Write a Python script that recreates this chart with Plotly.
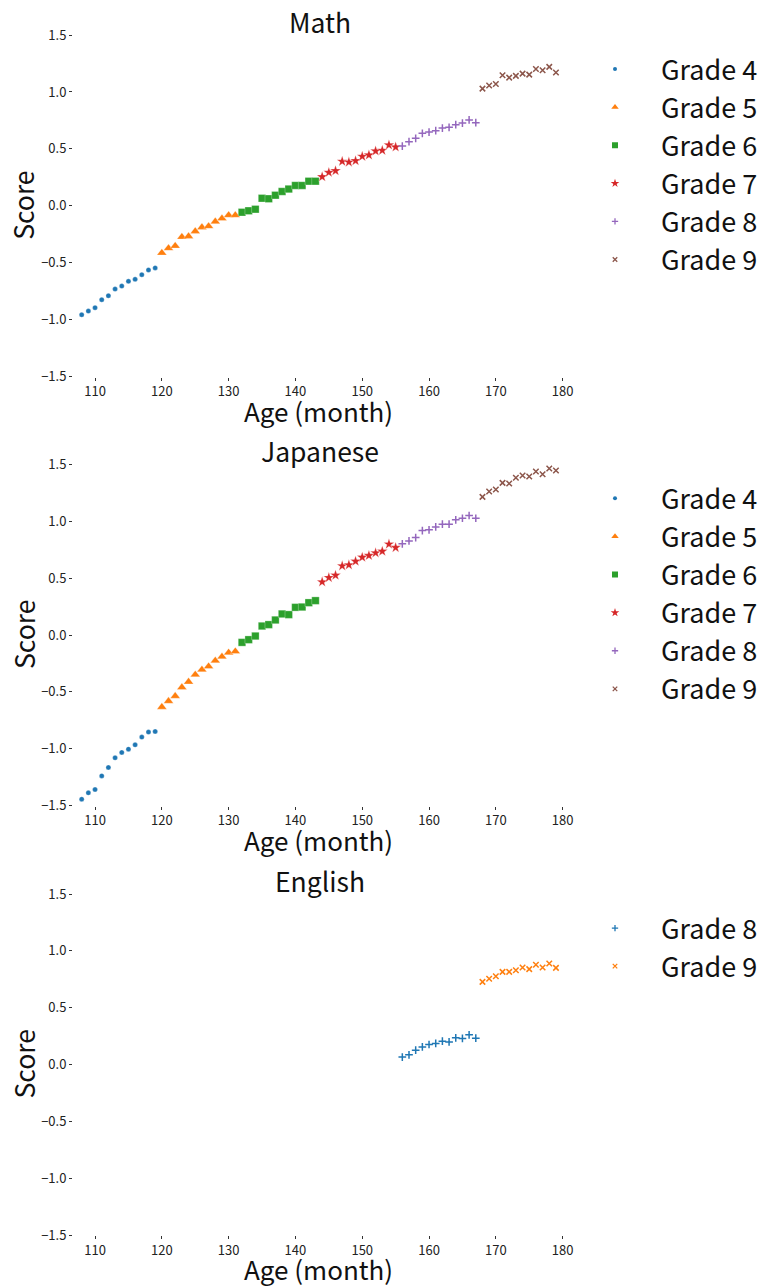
import plotly.graph_objects as go

W, H = 767, 1287
FONT = "Noto Sans CJK JP"

ages_g4 = list(range(108, 120))
ages_g5 = list(range(120, 132))
ages_g6 = list(range(132, 144))
ages_g7 = list(range(144, 156))
ages_g8 = list(range(156, 168))
ages_g9 = list(range(168, 180))

math_g4 = [-0.956, -0.924, -0.894, -0.824, -0.789, -0.730, -0.704, -0.663, -0.645, -0.604, -0.563, -0.545]
math_g5 = [-0.413, -0.372, -0.352, -0.273, -0.267, -0.223, -0.188, -0.179, -0.138, -0.111, -0.082, -0.082]
math_g6 = [-0.056, -0.044, -0.029, 0.067, 0.062, 0.094, 0.126, 0.147, 0.179, 0.179, 0.217, 0.217]
math_g7 = [0.255, 0.293, 0.308, 0.390, 0.384, 0.396, 0.434, 0.446, 0.481, 0.487, 0.534, 0.516]
math_g8 = [0.525, 0.563, 0.593, 0.637, 0.648, 0.660, 0.683, 0.689, 0.713, 0.727, 0.754, 0.730]
math_g9 = [1.029, 1.056, 1.070, 1.147, 1.126, 1.141, 1.161, 1.152, 1.202, 1.191, 1.220, 1.170]

jpn_g4 = [-1.443, -1.387, -1.358, -1.238, -1.164, -1.079, -1.032, -1.003, -0.965, -0.897, -0.853, -0.848]
jpn_g5 = [-0.633, -0.581, -0.537, -0.460, -0.411, -0.349, -0.305, -0.276, -0.226, -0.191, -0.155, -0.144]
jpn_g6 = [-0.065, -0.041, -0.009, 0.079, 0.091, 0.132, 0.185, 0.179, 0.243, 0.246, 0.284, 0.302]
jpn_g7 = [0.466, 0.504, 0.525, 0.607, 0.616, 0.648, 0.683, 0.698, 0.721, 0.736, 0.798, 0.768]
jpn_g8 = [0.801, 0.827, 0.856, 0.918, 0.924, 0.950, 0.974, 0.974, 1.012, 1.026, 1.050, 1.026]
jpn_g9 = [1.214, 1.261, 1.279, 1.337, 1.331, 1.381, 1.402, 1.393, 1.437, 1.413, 1.463, 1.446]

eng_g8 = [0.065, 0.085, 0.126, 0.155, 0.176, 0.185, 0.205, 0.199, 0.235, 0.229, 0.261, 0.232]
eng_g9 = [0.727, 0.754, 0.777, 0.815, 0.815, 0.830, 0.853, 0.839, 0.877, 0.853, 0.889, 0.850]

subjects = ["Math", "Japanese", "English"]
y_ticks = [-1.5, -1.0, -0.5, 0.0, 0.5, 1.0, 1.5]
y_ticklabels = ["\u22121.5", "\u22121.0", "\u22120.5", "0.0", "0.5", "1.0", "1.5"]
x_ticks = [110, 120, 130, 140, 150, 160, 170, 180]
x_title = "Age (month)"
y_title = "Score"

colors = ["#1f77b4", "#ff7f0e", "#2ca02c", "#d62728", "#9467bd", "#8c564b"]

# marker styles per grade: (symbol, data size, legend size)
styles = {
    "Grade 4": ("circle", 5, 4),
    "Grade 5": ("triangle-up", 8.5, 6.5),
    "Grade 6": ("square", 7.5, 6),
    "Grade 7": ("star", 8, 6.5),
    "Grade 8": ("cross-thin", 5.5, 4.5),
    "Grade 9": ("x-thin", 5.5, 4.5),
}

panels = [
    (["Grade 4", "Grade 5", "Grade 6", "Grade 7", "Grade 8", "Grade 9"],
     [ages_g4, ages_g5, ages_g6, ages_g7, ages_g8, ages_g9],
     [math_g4, math_g5, math_g6, math_g7, math_g8, math_g9]),
    (["Grade 4", "Grade 5", "Grade 6", "Grade 7", "Grade 8", "Grade 9"],
     [ages_g4, ages_g5, ages_g6, ages_g7, ages_g8, ages_g9],
     [jpn_g4, jpn_g5, jpn_g6, jpn_g7, jpn_g8, jpn_g9]),
    (["Grade 8", "Grade 9"],
     [ages_g8, ages_g9],
     [eng_g8, eng_g9]),
]


def fx(px):
    return px / W


def fy(py):
    return 1 - py / H


# page-pixel layout of each plot area (top, bottom)
plot_px = [(35.0, 376.7), (464.3, 805.7), (894.0, 1235.0)]
left_px, right_px = 73.0, 580.0
x_range = [106.7, 182.6]

fig = go.Figure()
layout = {}
annotations = []
for i, (names, xs, ys) in enumerate(panels):
    n = "" if i == 0 else str(i + 1)
    xa, ya = "x" + n, "y" + n
    leg = "legend" + n
    for j, (name, xv, yv) in enumerate(zip(names, xs, ys)):
        c = colors[j]
        sym, sz, lsz = styles[name]
        thin = sym.endswith("-thin")
        line = dict(color=c, width=1.5) if thin else dict(color="rgba(255,255,255,0.7)", width=0.4)
        fig.add_trace(go.Scatter(
            x=xv, y=yv, mode="markers", name=name, showlegend=False,
            xaxis=xa, yaxis=ya, legendgroup=f"{leg}-{name}",
            marker=dict(symbol=sym, size=sz, color=c, line=line),
        ))
        # legend entry with smaller marker (no data)
        fig.add_trace(go.Scatter(
            x=[None], y=[None], mode="markers", name=name, showlegend=True,
            xaxis=xa, yaxis=ya, legend=leg, legendgroup=f"{leg}-{name}",
            marker=dict(symbol=sym, size=lsz, color=c,
                        line=dict(color=c, width=1.3) if thin else dict(width=0)),
        ))
    top, bot = plot_px[i]
    layout["xaxis" + n] = dict(
        domain=[fx(left_px), fx(right_px)], range=x_range, automargin=False,
        anchor=ya, tickvals=x_ticks, ticks="outside", ticklen=3, tickwidth=0.8,
        tickcolor="#333", showline=False, showgrid=False, zeroline=False,
        tickfont=dict(family=FONT, size=13, color="#222"),
    )
    layout["yaxis" + n] = dict(
        domain=[fy(bot), fy(top)], range=[-1.5, 1.5], anchor=xa, automargin=False,
        tickvals=y_ticks, ticktext=y_ticklabels, ticks="outside", ticklen=3, tickwidth=0.8,
        tickcolor="#333", showline=False, showgrid=False, zeroline=False,
        tickfont=dict(family=FONT, size=13, color="#222"),
    )
    first_row = top + 35
    layout[leg] = dict(
        x=fx(569), xanchor="left", y=fy(first_row - 25), yanchor="top",
        font=dict(family=FONT, size=27, color="#111"), itemwidth=82,
        bgcolor="rgba(0,0,0,0)", borderwidth=0, tracegroupgap=0,
    )
    # subplot title
    annotations.append(dict(
        text=subjects[i], x=fx(319.5), y=fy(top - 14),
        xref="paper", yref="paper", xanchor="center", yanchor="middle",
        showarrow=False, font=dict(family=FONT, size=26.5, color="#111"),
    ))
    # x axis title
    annotations.append(dict(
        text=x_title, x=fx(318.5), y=fy(bot + 33.5),
        xref="paper", yref="paper", xanchor="center", yanchor="middle",
        showarrow=False, font=dict(family=FONT, size=26, color="#111"),
    ))
    # y axis title
    annotations.append(dict(
        text=y_title, x=fx(23), y=fy((top + bot) / 2),
        xref="paper", yref="paper", xanchor="center", yanchor="middle", textangle=-90,
        showarrow=False, font=dict(family=FONT, size=26.5, color="#111"),
    ))

fig.update_layout(
    width=W, height=H, margin=dict(l=0, r=0, t=0, b=0, autoexpand=False),
    paper_bgcolor="white", plot_bgcolor="white",
    font=dict(family=FONT), annotations=annotations, **layout,
)

# remove the browser's default 8px body margin so the figure fills the window
fig.write_html("out.html", config={"displayModeBar": False},
               post_script="document.body.style.margin='0px';")
